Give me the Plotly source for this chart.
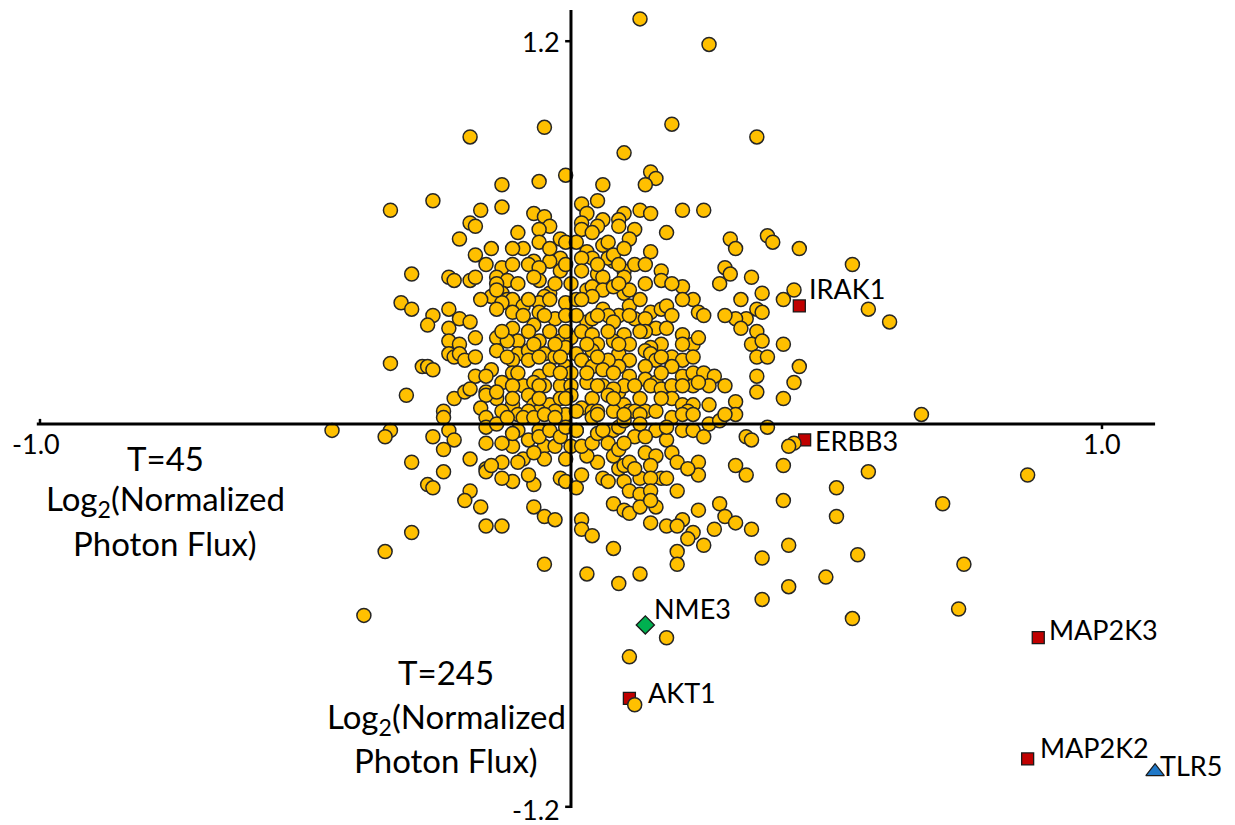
import plotly.graph_objects as go

# Log2(normalized photon flux) per reporter, T=45 on x and T=245 on y.
# Values are grouped by region of the plot so each list stays short.
t45_top = [0.13, 0.26, -0.05, -0.19, 0.19, 0.35, 0.10, -0.01, -0.06, -0.13,
           0.06, 0.15, 0.16, 0.14, -0.26, -0.34, -0.17, -0.13, -0.07, -0.05,
           -0.19, -0.18, -0.04, -0.06, -0.10, -0.21, -0.02, 0.02, 0.03, 0.05,
           0.13, 0.15, 0.21, 0.25, 0.10, 0.06, 0.09, 0.05, 0.09, 0.12,
           0.02, 0.02, 0.04, 0.18, 0.11, 0.37, 0.38, 0.30]
t245_top = [1.27, 1.19, 0.93, 0.90, 0.94, 0.90, 0.85, 0.78, 0.76, 0.75,
            0.75, 0.79, 0.77, 0.75, 0.70, 0.67, 0.67, 0.68, 0.66, 0.65,
            0.63, 0.62, 0.62, 0.61, 0.60, 0.58, 0.58, 0.69, 0.66, 0.70,
            0.67, 0.66, 0.67, 0.67, 0.66, 0.64, 0.64, 0.62, 0.62, 0.61,
            0.63, 0.61, 0.60, 0.60, 0.58, 0.59, 0.57, 0.58]

t45_right = [0.31, 0.43, 0.53, 0.34, 0.36, 0.42, 0.40, 0.32, 0.35, 0.36,
             0.33, 0.31, 0.32, 0.56, 0.60, 0.35, 0.34, 0.36, 0.40, 0.35,
             0.37, 0.43, 0.35, 0.42, 0.35, 0.40, 0.31, 0.31, 0.66, 0.37,
             0.29, 0.30, 0.28]
t245_right = [0.55, 0.55, 0.50, 0.46, 0.41, 0.42, 0.39, 0.39, 0.36, 0.35,
              0.33, 0.33, 0.30, 0.36, 0.32, 0.29, 0.25, 0.26, 0.25, 0.21,
              0.21, 0.18, 0.15, 0.13, 0.10, 0.08, 0.07, 0.03, 0.03, -0.01,
              0.49, 0.47, 0.44]

t45_core_r = [0.15, 0.17, 0.17, 0.21, 0.08, 0.10, 0.12, 0.10, 0.10, 0.11,
              0.23, 0.24, 0.25, 0.11, 0.15, 0.17, 0.18, 0.19, 0.09, 0.12,
              0.14, 0.16, 0.18, 0.21, 0.23, 0.24, 0.29, 0.10, 0.11, 0.14,
              0.17, 0.15, 0.09, 0.14, 0.15, 0.19, 0.21, 0.11, 0.09, 0.16,
              0.14, 0.19, 0.11, 0.14, 0.16, 0.21, 0.23, 0.25, 0.27, 0.29,
              0.26, 0.09, 0.10, 0.15, 0.17, 0.19, 0.23, 0.24, 0.10, 0.11,
              0.14, 0.16, 0.19, 0.21, 0.23, 0.26, 0.19]
t245_core_r = [0.54, 0.48, 0.45, 0.43, 0.51, 0.48, 0.50, 0.46, 0.41, 0.42,
               0.39, 0.35, 0.34, 0.37, 0.35, 0.36, 0.37, 0.34, 0.34, 0.33,
               0.33, 0.30, 0.30, 0.28, 0.25, 0.27, 0.34, 0.28, 0.25, 0.29,
               0.25, 0.24, 0.22, 0.23, 0.22, 0.21, 0.20, 0.20, 0.18, 0.20,
               0.18, 0.18, 0.15, 0.14, 0.13, 0.15, 0.16, 0.16, 0.15, 0.12,
               0.12, 0.10, 0.12, 0.12, 0.11, 0.12, 0.12, 0.13, 0.06, 0.04,
               0.04, 0.04, 0.08, 0.06, 0.06, 0.06, 0.02]

t45_core_c = [-0.06, -0.09, -0.15, -0.01, 0.01, 0.06, 0.07, 0.03, 0.04, 0.02,
              0.07, 0.08, 0.09, -0.02, -0.04, -0.07, -0.08, -0.06, -0.13, -0.14,
              -0.02, 0.02, 0.05, 0.06, -0.06, -0.07, -0.12, 0.00, 0.03, 0.04,
              0.06, 0.08, -0.04, -0.05, -0.13, -0.12, -0.15, -0.11, -0.09, -0.06,
              -0.06, -0.01, 0.01, 0.04, 0.06, -0.13, -0.11, -0.03, -0.01, 0.03,
              0.04, 0.07, 0.08, -0.11, -0.14, -0.07, -0.04, -0.10, -0.12, -0.06,
              -0.02, 0.00, 0.02, 0.04, 0.05, 0.08, -0.14, -0.10, -0.08, -0.05,
              -0.01, 0.01, 0.04, -0.08, -0.11, -0.03, 0.02, 0.05, 0.07, -0.15,
              -0.11, -0.06, -0.04, -0.01, 0.00, 0.04, 0.06, -0.13, -0.09, -0.07,
              -0.05, -0.02, 0.00, 0.03, 0.06, 0.08, -0.14, -0.11, -0.08, -0.07,
              -0.04, -0.02, 0.00, 0.02, 0.04, 0.07, -0.10, -0.06, -0.01, 0.01,
              0.04, 0.08]
t245_core_c = [0.57, 0.55, 0.55, 0.57, 0.57, 0.56, 0.57, 0.54, 0.52, 0.52,
               0.52, 0.53, 0.50, 0.52, 0.51, 0.51, 0.50, 0.49, 0.49, 0.46,
               0.48, 0.48, 0.47, 0.46, 0.45, 0.46, 0.45, 0.44, 0.42, 0.43,
               0.42, 0.43, 0.41, 0.40, 0.41, 0.39, 0.40, 0.39, 0.37, 0.38,
               0.35, 0.38, 0.39, 0.40, 0.36, 0.38, 0.35, 0.33, 0.34, 0.32,
               0.33, 0.34, 0.32, 0.30, 0.27, 0.31, 0.29, 0.26, 0.26, 0.26,
               0.26, 0.27, 0.29, 0.28, 0.25, 0.26, 0.23, 0.22, 0.23, 0.22,
               0.24, 0.22, 0.23, 0.20, 0.20, 0.21, 0.20, 0.20, 0.20, 0.17,
               0.16, 0.15, 0.17, 0.18, 0.16, 0.18, 0.17, 0.13, 0.12, 0.13,
               0.12, 0.12, 0.12, 0.13, 0.12, 0.11, 0.08, 0.06, 0.09, 0.06,
               0.06, 0.08, 0.09, 0.05, 0.08, 0.09, 0.03, 0.04, 0.03, 0.04,
               0.04, 0.04]

# heavily overlapped circles in the middle of the cloud
t45_core_dense = [-0.11, -0.04, 0.10,
                  -0.16, -0.11, -0.01, 0.05, 0.14,
                  -0.10, -0.03, 0.09, 0.14, 0.19,
                  -0.08, -0.04, 0.02, 0.13, 0.21,
                  -0.09, -0.05, 0.01, 0.05, 0.11,
                  -0.13, -0.08, -0.01, 0.07, 0.13,
                  -0.07, -0.03, 0.03, 0.09, 0.21,
                  -0.12, -0.06, -0.02, 0.05, 0.17, 0.23,
                  -0.10, -0.02, 0.03, 0.08, 0.17,
                  -0.11, -0.06, 0.05, 0.12, 0.21,
                  -0.11, -0.06, -0.01, 0.08, 0.13, 0.17,
                  -0.13, -0.08, -0.03, 0.05, 0.12, 0.22,
                  -0.10, -0.06, 0.01, 0.08, 0.16, 0.21,
                  -0.11, -0.05, 0.18,
                  -0.09, -0.05,
                  0.13]
t245_core_dense = [0.55, 0.55, 0.55,
                   0.50, 0.50, 0.50, 0.50, 0.50,
                   0.44, 0.44, 0.44, 0.44, 0.44,
                   0.39, 0.39, 0.39, 0.39, 0.39,
                   0.34, 0.34, 0.34, 0.34, 0.34,
                   0.29, 0.29, 0.29, 0.29, 0.29,
                   0.25, 0.25, 0.25, 0.25, 0.25,
                   0.21, 0.21, 0.21, 0.21, 0.21, 0.21,
                   0.16, 0.16, 0.16, 0.16, 0.16,
                   0.12, 0.12, 0.12, 0.12, 0.12,
                   0.08, 0.08, 0.08, 0.08, 0.08, 0.08,
                   0.04, 0.04, 0.04, 0.04, 0.04, 0.04,
                   -0.02, -0.02, -0.02, -0.02, -0.02, -0.02,
                   -0.07, -0.07, -0.05,
                   -0.11, -0.11,
                   -0.17]

t45_core_l = [-0.18, -0.30, -0.23, -0.22, -0.19, -0.18, -0.14, -0.32, -0.30, -0.26,
              -0.27, -0.23, -0.21, -0.19, -0.23, -0.17, -0.14, -0.14, -0.23, -0.21,
              -0.18, -0.23, -0.22, -0.21, -0.20, -0.18, -0.34, -0.28, -0.27, -0.26,
              -0.18, -0.16, -0.31, -0.22, -0.20, -0.19, -0.16, -0.16, -0.14, -0.17,
              -0.24, -0.24, -0.16]
t245_core_l = [0.53, 0.47, 0.46, 0.45, 0.45, 0.46, 0.44, 0.38, 0.36, 0.34,
               0.31, 0.36, 0.33, 0.32, 0.30, 0.39, 0.42, 0.36, 0.26, 0.25,
               0.27, 0.22, 0.21, 0.22, 0.20, 0.21, 0.19, 0.18, 0.18, 0.17,
               0.15, 0.15, 0.09, 0.08, 0.10, 0.11, 0.10, 0.09, 0.10, 0.05,
               0.04, 0.02, 0.02]

t45_low_l = [-0.45, -0.34, -0.35, -0.30, -0.26, -0.23, -0.22, -0.24, -0.24, -0.27,
             -0.26, -0.19, -0.16, -0.16, -0.16, -0.16, -0.19, -0.20, -0.17, -0.16,
             -0.30, -0.35, -0.39, -0.14]
t245_low_l = [-0.02, -0.02, -0.04, -0.12, -0.04, -0.02, -0.05, -0.08, -0.15, -0.19,
              -0.20, -0.11, -0.01, -0.06, -0.14, -0.15, -0.21, -0.24, -0.26, -0.32,
              -0.34, -0.40, -0.60, 0.00]

t45_low_c = [-0.13, -0.07, -0.05, -0.03, -0.05, -0.07, -0.08, -0.11, -0.13, -0.13,
             -0.10, -0.07, -0.08, -0.13, -0.11, -0.02, -0.01, 0.01, 0.02, 0.02,
             0.02, 0.04, 0.08, 0.10, 0.11, 0.08, 0.06, 0.07, 0.10, 0.09,
             0.05, 0.03, -0.01, 0.00, -0.03, -0.06, -0.04, -0.12, -0.09, -0.07,
             -0.05, -0.03, 0.04, 0.05, 0.09, 0.10, -0.02, -0.01, 0.01, 0.02,
             0.04, 0.05, 0.07, 0.08, 0.09, 0.10, 0.06, -0.15]
t245_low_c = [-0.32, -0.26, -0.29, -0.30, -0.44, -0.19, -0.16, -0.18, -0.17, -0.12,
              -0.12, -0.09, -0.05, -0.06, -0.03, -0.17, -0.18, -0.20, -0.16, -0.30,
              -0.33, -0.35, -0.25, -0.27, -0.28, -0.39, -0.17, -0.18, -0.18, -0.14,
              -0.12, -0.10, -0.11, -0.07, -0.07, -0.04, -0.02, 0.02, 0.02, 0.02,
              0.03, 0.02, 0.02, 0.03, -0.01, 0.01, -0.04, -0.01, -0.02, -0.07,
              -0.06, -0.03, -0.06, -0.10, -0.08, -0.13, -0.02, -0.13]

t45_low_r = [0.10, 0.13, 0.21, 0.23, 0.26, 0.28, 0.13, 0.18, 0.23, 0.25,
             0.12, 0.14, 0.10, 0.14, 0.16, 0.11, 0.19, 0.20, 0.12, 0.15,
             0.17, 0.18, 0.15, 0.11, 0.13, 0.15, 0.13, 0.16, 0.15, 0.15,
             0.24, 0.24, 0.22, 0.20, 0.31, 0.33, 0.28, 0.24, 0.29, 0.27,
             0.31, 0.34, 0.21, 0.18, 0.20, 0.23, 0.22, 0.25, 0.20, 0.20,
             0.36, 0.33, 0.34, 0.29]
t245_low_r = [0.03, 0.03, 0.03, 0.03, 0.00, 0.01, 0.00, -0.01, -0.02, -0.04,
              -0.04, -0.04, -0.06, -0.09, -0.10, -0.12, -0.09, -0.12, -0.14, -0.13,
              -0.17, -0.17, -0.17, -0.21, -0.22, -0.21, -0.26, -0.26, -0.24, -0.31,
              -0.12, -0.16, -0.14, -0.21, -0.13, -0.16, -0.25, -0.27, -0.29, -0.33,
              -0.31, -0.33, -0.30, -0.32, -0.32, -0.34, -0.36, -0.38, -0.40, -0.44,
              -0.42, -0.04, -0.05, 0.03]

t45_outer = [0.03, 0.09, 0.13, 0.41, 0.36, 0.41, 0.18, 0.11, 0.12,
             0.42, 0.41, 0.40, 0.56, 0.86, 0.50, 0.40, 0.70, 0.50, 0.54,
             0.74, 0.48, 0.73, 0.53]
t245_outer = [-0.47, -0.50, -0.47, -0.38, -0.55, -0.51, -0.67, -0.73, -0.88,
              -0.06, -0.07, -0.13, -0.15, -0.16, -0.20, -0.24, -0.25, -0.29, -0.41,
              -0.44, -0.48, -0.58, -0.61]

t45 = (t45_top + t45_right + t45_core_r + t45_core_c + t45_core_dense + t45_core_l
       + t45_low_l + t45_low_c + t45_low_r + t45_outer)
t245 = (t245_top + t245_right + t245_core_r + t245_core_c + t245_core_dense + t245_core_l
        + t245_low_l + t245_low_c + t245_low_r + t245_outer)

# Highlighted reporters
gene_names = ["IRAK1", "ERBB3", "NME3", "AKT1", "MAP2K3", "MAP2K2", "TLR5"]
gene_t45 = [0.43, 0.44, 0.14, 0.11, 0.88, 0.86, 1.10]
gene_t245 = [0.37, -0.05, -0.63, -0.86, -0.67, -1.05, -1.09]

# Axis tick labels
x_ticks = [-1.0, 1.0]
y_ticks = [1.2, -1.2]

FONT = "Lato, 'Open Sans', sans-serif"

gene_style = {
    "IRAK1": ("square", "#C00000", 12),
    "ERBB3": ("square", "#C00000", 12),
    "AKT1": ("square", "#C00000", 12),
    "MAP2K3": ("square", "#C00000", 12),
    "MAP2K2": ("square", "#C00000", 12),
    "NME3": ("diamond", "#00B050", 14),
    "TLR5": ("triangle-up", "#1F78C8", 16),
}
# label offsets from the marker centre, in pixels (x right, y up)
label_shift = {
    "IRAK1": (8, 17), "ERBB3": (8, -1), "NME3": (7, 16), "AKT1": (17, 6),
    "MAP2K3": (9, 8), "MAP2K2": (10, 11), "TLR5": (3, 6),
}

fig = go.Figure()

for name, gx, gy in zip(gene_names, gene_t45, gene_t245):
    sym, col, size = gene_style[name]
    fig.add_trace(go.Scatter(
        x=[gx], y=[gy], mode="markers", hoverinfo="skip",
        marker=dict(symbol=sym, size=size, color=col,
                    line=dict(color="#1a1a1a", width=1.3)),
    ))

fig.add_trace(go.Scatter(
    x=t45, y=t245, mode="markers", hoverinfo="skip",
    marker=dict(symbol="circle", size=14, color="#FFC000",
                line=dict(color="#262626", width=1.5)),
))

shapes = [
    # horizontal axis through y=0
    dict(type="line", xref="x", yref="y", x0=-1.006, x1=1.10, y0=0, y1=0,
         line=dict(color="black", width=3)),
    # vertical axis through x=0
    dict(type="line", xref="x", yref="y", x0=0, x1=0, y0=-1.204, y1=1.298,
         line=dict(color="black", width=3)),
    # tick marks
    dict(type="line", xref="x", yref="y", x0=-1.0, x1=-1.0, y0=0, y1=0.016,
         line=dict(color="black", width=2.5)),
    dict(type="line", xref="x", yref="y", x0=1.0, x1=1.0, y0=0, y1=-0.016,
         line=dict(color="black", width=2.5)),
    dict(type="line", xref="x", yref="y", x0=-0.011, x1=0, y0=1.2, y1=1.2,
         line=dict(color="black", width=2.5)),
    dict(type="line", xref="x", yref="y", x0=-0.011, x1=0, y0=-1.2, y1=-1.2,
         line=dict(color="black", width=2.5)),
]

annotations = []
for v in x_ticks:
    annotations.append(dict(
        x=v, y=0, xref="x", yref="y", text=f"{v:.1f}", showarrow=False,
        xanchor="center", yanchor="middle", xshift=-4 if v < 0 else 0, yshift=-19,
        font=dict(family=FONT, size=27, color="black")))
for v in y_ticks:
    annotations.append(dict(
        x=0, y=v, xref="x", yref="y", text=f"{v:.1f}", showarrow=False,
        xanchor="right", yanchor="middle", xshift=-9, yshift=0 if v > 0 else -3,
        font=dict(family=FONT, size=27, color="black")))

for name, gx, gy in zip(gene_names, gene_t45, gene_t245):
    dx, dy = label_shift[name]
    annotations.append(dict(
        x=gx, y=gy, xref="x", yref="y", text=name, showarrow=False,
        xanchor="left", yanchor="middle", xshift=dx, yshift=dy,
        font=dict(family=FONT, size=27, color="black")))

# axis titles (three lines each)
title_lines = ["T={}", "Log<sub>2</sub>(Normalized", "Photon Flux)"]
for t, cx, ys in [("45", 165, (458, 500, 543)), ("245", 446, (672, 718, 760))]:
    for line, py in zip(title_lines, ys):
        annotations.append(dict(
            x=cx / 1235, y=1 - py / 825, xref="paper", yref="paper",
            text=line.format(t), showarrow=False, xanchor="center", yanchor="middle",
            font=dict(family=FONT, size=33, color="black")))

fig.update_layout(
    width=1235, height=825, autosize=False,
    margin=dict(l=0, r=0, t=0, b=0, pad=0),
    paper_bgcolor="white", plot_bgcolor="white",
    showlegend=False,
    xaxis=dict(range=[-1.0753, 1.2505], visible=False, fixedrange=True),
    yaxis=dict(range=[-1.2571, 1.3292], visible=False, fixedrange=True),
    shapes=shapes, annotations=annotations,
)

fig.write_html("out.html")
